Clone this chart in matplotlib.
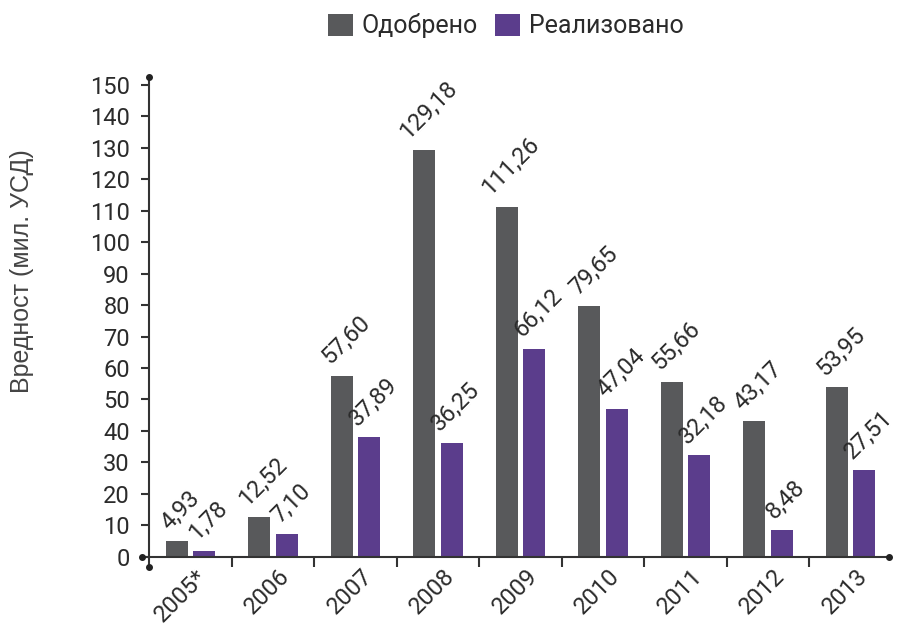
import matplotlib.pyplot as plt
from matplotlib.transforms import ScaledTranslation

years = ["2005*", "2006", "2007", "2008", "2009", "2010", "2011", "2012", "2013"]
approved = [4.93, 12.52, 57.60, 129.18, 111.26, 79.65, 55.66, 43.17, 53.95]
realized = [1.78, 7.10, 37.89, 36.25, 66.12, 47.04, 32.18, 8.48, 27.51]

GRAY = '#58595b'
PURPLE = '#5b3d8c'
TEXT = '#2b2b2b'
FONT_SIZE = 17

plt.rcParams['font.family'] = ['Roboto', 'DejaVu Sans']
plt.rcParams['font.size'] = FONT_SIZE
plt.rcParams['text.color'] = TEXT

fig = plt.figure(figsize=(8.98, 6.30), dpi=100)
ax = fig.add_axes([0.1579, 0.1, 0.8324, 0.7773])

x = list(range(len(years)))
w = 0.27
off = 0.167
ax.bar([i - off for i in x], approved, width=w, color=GRAY, label='Одобрено')
ax.bar([i + off for i in x], realized, width=w, color=PURPLE, label='Реализовано')


def fmt(v):
    return f"{v:.2f}".replace('.', ',')


for i in x:
    for xi, v in ((i - off, approved[i]), (i + off, realized[i])):
        ax.annotate(fmt(v), (xi, v), xytext=(3, 5), textcoords='offset points',
                    rotation=45, ha='center', va='bottom', fontsize=FONT_SIZE,
                    color=TEXT)

ax.set_xlim(-0.59, 8.47)
ax.set_ylim(-3.3, 152.45)

for s in ['top', 'right']:
    ax.spines[s].set_visible(False)
ax.spines['left'].set_position(('data', -0.5))
ax.spines['bottom'].set_position(('data', 0))
for s in ['left', 'bottom']:
    ax.spines[s].set_color('#333333')
    ax.spines[s].set_linewidth(1.5)

# end dots on the axis lines
ax.plot([-0.5, -0.5, -0.59, 8.47], [152.45, -3.3, 0, 0], 'o', color='#222222',
        markersize=4, clip_on=False, zorder=5)

ax.set_yticks(range(0, 151, 10))
ax.tick_params(axis='y', direction='out', length=6, width=1.5, color='#333333',
               pad=8, labelsize=FONT_SIZE, labelcolor=TEXT)

ax.set_xticks(x)
ax.set_xticklabels(years, rotation=45, ha='right', rotation_mode='anchor')
ax.set_xticks([i + 0.5 for i in x[:-1]], minor=True)
ax.tick_params(axis='x', which='major', length=0, pad=6, labelsize=FONT_SIZE,
               labelcolor=TEXT)
ax.tick_params(axis='x', which='minor', direction='out', length=7, width=1.5,
               color='#333333')
shift = ScaledTranslation(5 / 100, 0, fig.dpi_scale_trans)
for lbl in ax.get_xticklabels():
    lbl.set_transform(lbl.get_transform() + shift)

fig.text(0.025, 0.57, 'Вредност (мил. УСД)', rotation=90, ha='center', va='center',
         fontsize=18, color='#444444', family=['Liberation Sans', 'DejaVu Sans'])

fig.legend(loc='center', bbox_to_anchor=(0.563, 0.959), ncol=2, frameon=False,
           handlelength=1.0, handleheight=1.0, handletextpad=0.35,
           columnspacing=0.7, fontsize=18)

plt.savefig('out.png', dpi=100)
